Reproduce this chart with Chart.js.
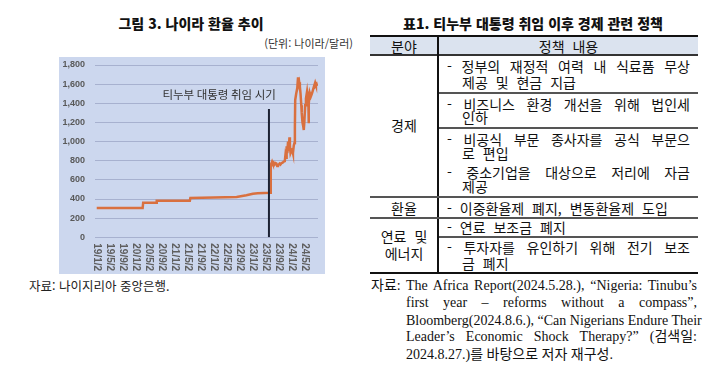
<!DOCTYPE html>
<html lang="ko">
<head>
<meta charset="utf-8">
<script src="https://cdn.jsdelivr.net/npm/chart.js@4.4.1/dist/chart.umd.min.js"></script>
<style>
  body { margin: 0; background: #fff; }
  #page { position: relative; width: 718px; height: 373px; overflow: hidden; font-family: "Noto Sans CJK KR", sans-serif; color: #111; }
  .t { position: absolute; white-space: nowrap; line-height: 16px; }
  .title { font-size: 14px; font-weight: 900; text-align: center; width: 300px; }
  .cell { font-size: 14px; word-spacing: 4px; }
  .just { text-align: justify; text-align-last: justify; }
  .src { font-family: "Liberation Serif", "Noto Sans CJK KR", serif; font-size: 14px; }
  .rule { position: absolute; background: #555; }
  .bold { background: #111; }
  #chart-box { position: absolute; left: 59px; top: 57px; width: 266px; height: 217px; background: #ccd7ee; }
</style>
</head>
<body>
<div id="page">
  <!-- left: chart -->
  <div class="t title" style="left:41px; top:15px;">그림 3. 나이라 환율 추이</div>
  <div class="t" style="right:365px; top:35px; font-size:11px; color:#333;">(단위: 나이라/달러)</div>
  <div id="chart-box"><canvas id="rateChart"></canvas></div>
  <div class="t" style="left:29px; top:278px; font-size:12.5px; color:#222;">자료: 나이지리아 중앙은행.</div>

  <!-- right: table -->
  <div class="t title" style="left:383px; top:15px;">표1. 티누부 대통령 취임 이후 경제 관련 정책</div>
  <div class="rule" style="left:370px; top:37px; width:328px; height:17px; background:#dbe3ef;"></div>
  <div class="rule bold" style="left:370px; top:35px; width:328px; height:2px;"></div>
  <div class="rule" style="left:370px; top:54px; width:328px; height:2px; background:#333;"></div>
  <div class="rule bold" style="left:437px; top:36px; width:2px; height:237px;"></div>
  <div class="rule" style="left:439px; top:92px; width:259px; height:2px;"></div>
  <div class="rule" style="left:439px; top:127px; width:259px; height:2px;"></div>
  <div class="rule" style="left:370px; top:196px; width:328px; height:2px;"></div>
  <div class="rule" style="left:370px; top:217px; width:328px; height:2px;"></div>
  <div class="rule" style="left:439px; top:236px; width:259px; height:2px;"></div>
  <div class="rule bold" style="left:370px; top:272px; width:328px; height:2px;"></div>

  <div class="t cell" style="left:370px; width:68px; text-align:center; top:38px;">분야</div>
  <div class="t cell" style="left:439px; width:259px; text-align:center; top:38px;">정책 내용</div>
  <div class="t cell" style="left:370px; width:68px; text-align:center; top:117px;">경제</div>
  <div class="t cell" style="left:370px; width:68px; text-align:center; top:200px;">환율</div>
  <div class="t cell" style="left:370px; width:68px; text-align:center; top:228px;">연료 및</div>
  <div class="t cell" style="left:370px; width:68px; text-align:center; top:245px;">에너지</div>

  <div class="t cell just" style="left:447px; width:243px; top:58px;">- 정부의 재정적 여력 내 식료품 무상</div>
  <div class="t cell" style="left:462px; top:74px;">제공 및 현금 지급</div>
  <div class="t cell just" style="left:447px; width:243px; top:96px;">- 비즈니스 환경 개선을 위해 법인세</div>
  <div class="t cell" style="left:462px; top:109px;">인하</div>
  <div class="t cell just" style="left:447px; width:243px; top:131px;">- 비공식 부문 종사자를 공식 부문으</div>
  <div class="t cell" style="left:462px; top:145px;">로 편입</div>
  <div class="t cell just" style="left:447px; width:243px; top:164px;">- 중소기업을 대상으로 저리에 자금</div>
  <div class="t cell" style="left:462px; top:178px;">제공</div>
  <div class="t cell" style="left:447px; top:200px;">- 이중환율제 폐지, 변동환율제 도입</div>
  <div class="t cell" style="left:447px; top:219px;">- 연료 보조금 폐지</div>
  <div class="t cell just" style="left:447px; width:243px; top:239px;">- 투자자를 유인하기 위해 전기 보조</div>
  <div class="t cell" style="left:462px; top:255px;">금 폐지</div>

  <div class="t src" style="left:371px; top:278px;">자료:</div>
  <div class="t src just" style="left:406px; width:291px; top:278px;">The Africa Report(2024.5.28.), “Nigeria: Tinubu’s</div>
  <div class="t src just" style="left:406px; width:291px; top:295px;">first year – reforms without a compass”,</div>
  <div class="t src just" style="left:406px; width:291px; top:313px;">Bloomberg(2024.8.6.), “Can Nigerians Endure Their</div>
  <div class="t src just" style="left:406px; width:291px; top:329px;">Leader’s Economic Shock Therapy?” (검색일:</div>
  <div class="t src" style="left:406px; top:347px;">2024.8.27.)를 바탕으로 저자 재구성.</div>
</div>

<script>
// Naira per US dollar
const dates = [
  "2019-01-02", "2019-07-01", "2020-01-01", "2020-03-05", "2020-03-10", "2020-07-10",
  "2020-07-15", "2021-01-01", "2021-05-20", "2021-05-25", "2022-01-01", "2022-08-01",
  "2022-11-01", "2023-01-01", "2023-02-15", "2023-06-14", "2023-06-15", "2023-06-16",
  "2023-06-28", "2023-07-05", "2023-07-12", "2023-07-20", "2023-07-31", "2023-08-08",
  "2023-08-15", "2023-08-22", "2023-08-30", "2023-09-07", "2023-09-15", "2023-09-25",
  "2023-10-05", "2023-10-15", "2023-10-25", "2023-11-01", "2023-11-08", "2023-11-12",
  "2023-11-18", "2023-11-25", "2023-12-01", "2023-12-08", "2023-12-12", "2023-12-18",
  "2023-12-25", "2024-01-03", "2024-01-10", "2024-01-18", "2024-01-24", "2024-01-28",
  "2024-02-01", "2024-02-10", "2024-02-20", "2024-02-27", "2024-03-03", "2024-03-08",
  "2024-03-14", "2024-03-20", "2024-03-27", "2024-04-01", "2024-04-08", "2024-04-15",
  "2024-04-20", "2024-04-25", "2024-05-03", "2024-05-10", "2024-05-20", "2024-05-25",
  "2024-06-01", "2024-06-04", "2024-06-08", "2024-06-15", "2024-06-25", "2024-07-05",
  "2024-07-15", "2024-07-25", "2024-08-05", "2024-08-12", "2024-08-18", "2024-08-23"
];
const rates = [
  306, 306, 306, 306, 361, 361,
  381, 381, 381, 411, 415, 420,
  440, 455, 461, 465, 664, 755,
  790, 770, 780, 760, 775, 770,
  745, 750, 760, 770, 760, 775,
  780, 790, 795, 860, 830, 950,
  880, 1000, 900, 1045, 960, 880,
  900, 915, 880, 960, 985, 1150,
  1435, 1500, 1560, 1670, 1600, 1620,
  1574, 1500, 1380, 1300, 1200, 1160,
  1121, 1200, 1380, 1450, 1522, 1470,
  1480, 1191, 1400, 1508, 1470, 1500,
  1540, 1580, 1616, 1590, 1600, 1581
];
const tickLabels = ["19/1/2", "19/5/2", "19/9/2", "20/1/2", "20/5/2", "20/9/2", "21/1/2", "21/5/2", "21/9/2",
  "22/1/2", "22/5/2", "22/9/2", "23/1/2", "23/5/2", "23/9/2", "24/1/2", "24/5/2"];
const tinubuDate = "2023-05-29";
const tinubuLineTop = 1340;
const noteText = "티누부 대통령 취임 시기";
const noteDate = "2022-02-20";
const noteValue = 1490;

// months since Jan 2019
function monthIndex(y, m, d) {
  return (y - 2019) * 12 + (m - 1) + (d - 1) / 30;
}
function fromIso(s) {
  const [y, m, d] = s.split("-").map(Number);
  return monthIndex(y, m, d);
}
function fromTick(s) {
  const [y, m, d] = s.split("/").map(Number);
  return monthIndex(2000 + y, m, d);
}

const points = dates.map((d, i) => ({ x: fromIso(d), y: rates[i] }));
const tinubuX = fromIso(tinubuDate);

const drawExtras = {
  id: "drawExtras",
  afterDraw(chart) {
    const { ctx, chartArea, scales } = chart;
    ctx.save();
    ctx.font = 'bold 10px "Liberation Sans", Arial, sans-serif';
    ctx.fillStyle = "#5f5f5f";
    ctx.textAlign = "left";
    ctx.textBaseline = "middle";
    tickLabels.forEach(lab => {
      const px = scales.x.getPixelForValue(fromTick(lab));
      ctx.save();
      ctx.translate(px, chartArea.bottom + 6);
      ctx.rotate(Math.PI / 2);
      ctx.fillText(lab, 0, 0);
      ctx.restore();
    });
    ctx.font = '11.5px "Noto Sans CJK KR", sans-serif';
    ctx.fillStyle = "#333";
    ctx.textAlign = "center";
    ctx.fillText(noteText, scales.x.getPixelForValue(fromIso(noteDate)), scales.y.getPixelForValue(noteValue));
    ctx.restore();
  }
};

new Chart(document.getElementById("rateChart"), {
  type: "line",
  data: {
    datasets: [
      {
        data: [{ x: tinubuX, y: 0 }, { x: tinubuX, y: tinubuLineTop }],
        borderColor: "#1c2233",
        borderWidth: 2,
        pointRadius: 0,
        order: 0
      },
      {
        data: points,
        borderColor: "#d9703f",
        borderWidth: 2.5,
        pointRadius: 0,
        tension: 0,
        order: 1
      }
    ]
  },
  options: {
    responsive: true,
    maintainAspectRatio: false,
    animation: false,
    layout: { padding: { top: 8, right: 7, left: 0, bottom: 0 } },
    plugins: { legend: { display: false }, tooltip: { enabled: false } },
    scales: {
      x: {
        type: "linear",
        min: -0.5,
        max: 68,
        ticks: { display: false },
        grid: { display: false },
        border: { display: false },
        afterFit: s => { s.height = 36.7; s.paddingLeft = 0; s.paddingRight = 0; }
      },
      y: {
        min: 0,
        max: 1800,
        ticks: {
          stepSize: 200,
          padding: 10,
          color: "#595959",
          font: { family: '"Liberation Sans", Arial, sans-serif', size: 9, weight: "bold" },
          callback: v => v.toLocaleString("en-US")
        },
        grid: { color: "#a7b1cf", lineWidth: 1, drawTicks: false },
        border: { display: false },
        afterFit: s => { s.width = 36; s.paddingTop = 0; s.paddingBottom = 0; }
      }
    }
  },
  plugins: [drawExtras]
});
</script>
</body>
</html>
